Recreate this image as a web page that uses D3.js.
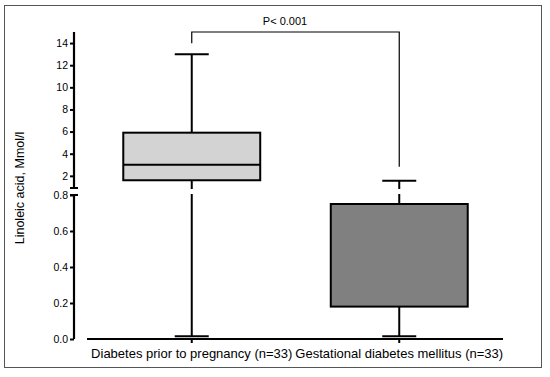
<!DOCTYPE html>
<html>
<head>
<meta charset="utf-8">
<script src="https://cdn.jsdelivr.net/npm/d3@7"></script>
<style>
  body { margin: 0; background: #fff; }
  svg { font-family: "Liberation Sans", Arial, sans-serif; }
</style>
</head>
<body>
<svg width="550" height="377"></svg>
<script>
// data
const categories = ["Diabetes prior to pregnancy (n=33)", "Gestational diabetes mellitus (n=33)"];
const mins = [0.015, 0.015];
const q1s = [1.6, 0.18];
const medians = [3.0, 0.75];
const q3s = [5.9, 0.75];
const maxs = [13.0, 1.55];
const fills = ["#d3d3d3", "#808080"];
const upperTicks = [2, 4, 6, 8, 10, 12, 14];
const lowerTicks = [0.0, 0.2, 0.4, 0.6, 0.8];
const pLabel = "P< 0.001";

const svg = d3.select("svg");

// frame
svg.append("rect")
    .attr("x", 4.5).attr("y", 5.5)
    .attr("width", 537).attr("height", 362)
    .attr("fill", "none")
    .attr("stroke", "#555")
    .attr("stroke-width", 1);

const axisX = 74;
const x = d3.scaleBand().domain(categories).range([88, 503]);
const yTop = d3.scaleLinear().domain([0.9, 15]).range([188, 32]);
const yBot = d3.scaleLinear().domain([0, 0.8]).range([339, 195]);

function y(v) {
    return v >= 0.85 ? yTop(v) : yBot(v);
}

// y axis, two segments
const axTop = svg.append("g")
    .attr("transform", `translate(${axisX},0)`)
    .call(d3.axisLeft(yTop).tickValues(upperTicks).tickSize(4).tickPadding(2).tickFormat(d3.format("d")));
const axBot = svg.append("g")
    .attr("transform", `translate(${axisX},0)`)
    .call(d3.axisLeft(yBot).tickValues(lowerTicks).tickSize(4).tickPadding(2).tickFormat(d3.format(".1f")));

[axTop, axBot].forEach(ax => {
    ax.select(".domain").remove();
    ax.selectAll(".tick line").attr("stroke", "#000").attr("stroke-width", 2);
    ax.selectAll(".tick text")
        .attr("font-size", 10.5)
        .attr("fill", "#000");
});

svg.append("line")
    .attr("x1", axisX).attr("x2", axisX)
    .attr("y1", yTop.range()[1]).attr("y2", yTop.range()[0])
    .attr("stroke", "#000").attr("stroke-width", 2.2);
svg.append("line")
    .attr("x1", axisX).attr("x2", axisX)
    .attr("y1", yBot.range()[1]).attr("y2", yBot.range()[0])
    .attr("stroke", "#000").attr("stroke-width", 2.2);
// break caps
svg.append("line")
    .attr("x1", axisX - 4).attr("x2", axisX + 4)
    .attr("y1", yTop.range()[0]).attr("y2", yTop.range()[0])
    .attr("stroke", "#000").attr("stroke-width", 2);
svg.append("line")
    .attr("x1", axisX - 4).attr("x2", axisX + 4)
    .attr("y1", yBot.range()[1]).attr("y2", yBot.range()[1])
    .attr("stroke", "#000").attr("stroke-width", 2);

// x axis
const xAxisY = yBot(0);
svg.append("line")
    .attr("x1", 87).attr("x2", 503)
    .attr("y1", xAxisY).attr("y2", xAxisY)
    .attr("stroke", "#000").attr("stroke-width", 2);

categories.forEach(c => {
    const cx = x(c) + x.bandwidth() / 2;
    svg.append("line")
        .attr("x1", cx).attr("x2", cx)
        .attr("y1", xAxisY).attr("y2", xAxisY + 4)
        .attr("stroke", "#000").attr("stroke-width", 2);
    svg.append("text")
        .attr("x", cx).attr("y", xAxisY + 19)
        .attr("text-anchor", "middle")
        .attr("font-size", 13)
        .text(c);
});

// y label
svg.append("text")
    .attr("transform", "translate(24,188) rotate(-90)")
    .attr("text-anchor", "middle")
    .attr("font-size", 12.5)
    .text("Linoleic acid, Mmol/l");

// boxes
const boxW = x.bandwidth() * 0.66;
const capW = 34;
const gapTop = yTop.range()[0] + 1, gapBot = yBot.range()[1] - 1;

function vline(cx, a, b) {
    // vertical whisker that skips the axis break
    const lo = Math.max(a, b), hi = Math.min(a, b);
    if (hi < gapTop && lo > gapBot) {
        seg(hi, gapTop); seg(gapBot, lo);
    } else seg(hi, lo);
    function seg(p, q) {
        svg.append("line")
            .attr("x1", cx).attr("x2", cx).attr("y1", p).attr("y2", q)
            .attr("stroke", "#000").attr("stroke-width", 2);
    }
}

categories.forEach((c, i) => {
    const cx = x(c) + x.bandwidth() / 2;
    vline(cx, y(maxs[i]), y(q3s[i]));
    vline(cx, y(q1s[i]), y(mins[i]));
    [maxs[i], mins[i]].forEach(v => {
        svg.append("line")
            .attr("x1", cx - capW / 2).attr("x2", cx + capW / 2)
            .attr("y1", y(v)).attr("y2", y(v))
            .attr("stroke", "#000").attr("stroke-width", 2);
    });
    svg.append("rect")
        .attr("x", cx - boxW / 2).attr("width", boxW)
        .attr("y", y(q3s[i])).attr("height", y(q1s[i]) - y(q3s[i]))
        .attr("fill", fills[i])
        .attr("stroke", "#000").attr("stroke-width", 2);
    svg.append("line")
        .attr("x1", cx - boxW / 2).attr("x2", cx + boxW / 2)
        .attr("y1", y(medians[i])).attr("y2", y(medians[i]))
        .attr("stroke", "#000").attr("stroke-width", 2);
});

// significance bracket
const c0 = x(categories[0]) + x.bandwidth() / 2;
const c1 = x(categories[1]) + x.bandwidth() / 2;
const brY = yTop(15);
svg.append("path")
    .attr("d", `M${c0},${y(maxs[0]) - 11}V${brY}H${c1}V${y(maxs[1]) - 14}`)
    .attr("fill", "none")
    .attr("stroke", "#000")
    .attr("stroke-width", 1.2);
svg.append("text")
    .attr("x", 285).attr("y", brY - 7)
    .attr("text-anchor", "middle")
    .attr("font-size", 11)
    .text(pLabel);
</script>
</body>
</html>
